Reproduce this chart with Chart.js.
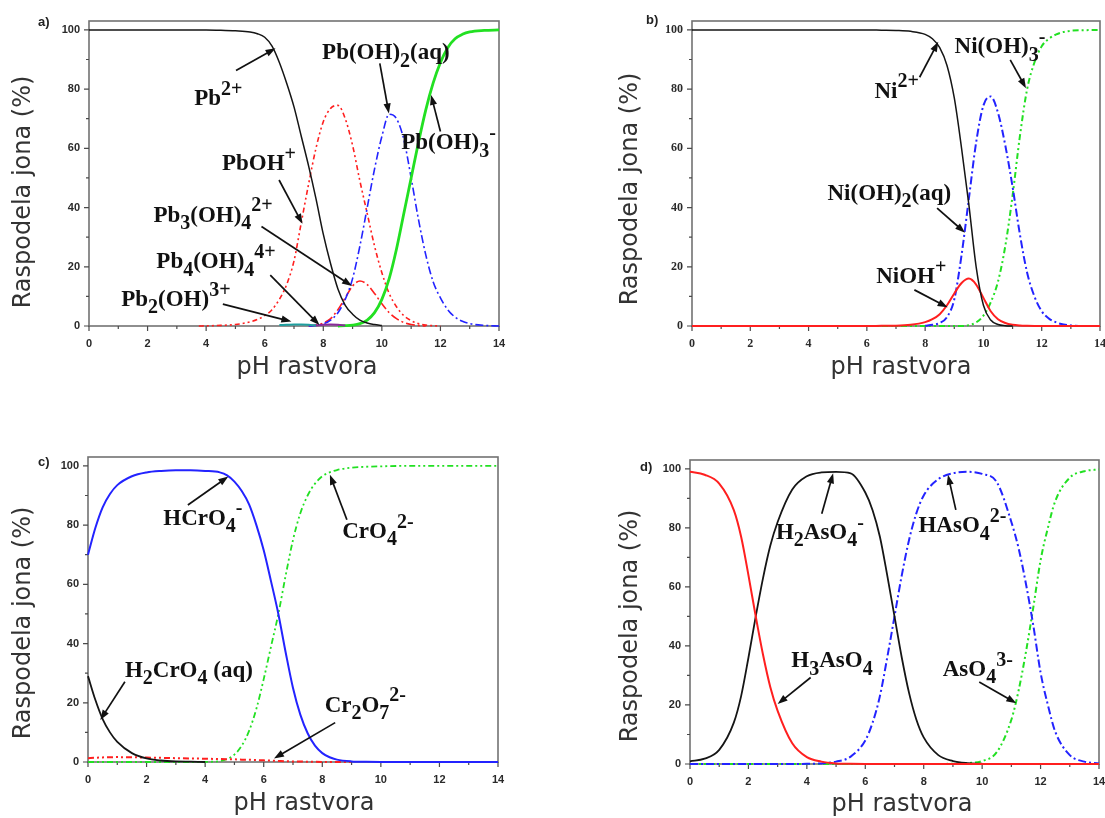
<!DOCTYPE html>
<html lang="sr">
<head>
<meta charset="utf-8">
<title>Raspodela jona</title>
<script src="https://cdn.jsdelivr.net/npm/chart.js@4.4.1/dist/chart.umd.min.js"></script>
<style>
html,body{margin:0;padding:0;background:#fff;}
body{width:1105px;height:818px;position:relative;overflow:hidden;}
canvas{position:absolute;}
</style>
</head>
<body>
<canvas id="cA" width="550" height="400" style="left:0;top:0;width:550px;height:400px"></canvas>
<canvas id="cB" width="555" height="400" style="left:550px;top:0;width:555px;height:400px"></canvas>
<canvas id="cC" width="550" height="408" style="left:0;top:410px;width:550px;height:408px"></canvas>
<canvas id="cD" width="555" height="408" style="left:550px;top:410px;width:555px;height:408px"></canvas>
<script>
// ---------- tick labels ----------
const xMajor = [0, 2, 4, 6, 8, 10, 12, 14];
const xMinor = [1, 3, 5, 7, 9, 11, 13];
const yMajor = [0, 20, 40, 60, 80, 100];
const yMinor = [10, 30, 50, 70, 90];
const xTitle = 'pH rastvora';
const yTitle = 'Raspodela jona (%)';

// ---------- panel a) Pb ----------
const pHa = [0,1,2,3,3.75,4,4.5,5,5.5,5.75,6,6.25,6.5,6.75,7,7.25,7.5,7.75,8,8.25,8.5,8.75,9,9.25,9.5,9.75,10,10.25,10.5,10.75,11,11.25,11.5,11.75,12,12.25,12.5,12.75,13,13.5,14];
const a_Pb2 = [100,100,100,100,100,100,99.9,99.7,99.3,98.7,97.5,94.5,89,82,74,64,54,43,31,21,12.5,7,4,2,1,0.5,0.2,null,null,null,null,null,null,null,null,null,null,null,null,null,null];
const a_PbOH = [null,null,null,null,0,0.05,0.2,0.5,1.4,2.2,3.5,5.5,9,14,22,35,48,60,69,73.5,74.5,70,61,49,38,27,18,11,6.5,3.5,1.8,0.8,0.3,0.1,0,null,null,null,null,null,null];
const a_Pb3OH4 = [null,null,null,null,null,null,null,null,null,null,null,null,null,null,null,null,0,0.3,1,2.5,5.5,9.5,13.5,15.2,14,11,7.5,4.5,2.5,1.2,0.5,0.15,0,null,null,null,null,null,null,null,null];
const a_PbOH2 = [null,null,null,null,null,null,null,null,null,null,null,null,null,null,null,null,0,0.2,0.7,2,4.5,9,16,27,40,53,64,71.5,70,63,50,36,24,15,9.5,5.5,3,1.6,0.8,0.2,0];
const a_PbOH3 = [null,null,null,null,null,null,null,null,null,null,null,null,null,null,null,null,null,null,null,null,0,0.1,0.3,0.8,2,4.5,9,16,26,38,50,62,73,82,89,94,97,98.5,99.3,99.8,100];
const a_Pb2OH = [null,null,null,null,null,null,null,null,null,null,null,null,0.3,0.4,0.5,0.5,0.4,0.2,null,null,null,null,null,null,null,null,null,null,null,null,null,null,null,null,null,null,null,null,null,null,null];
const a_Pb4OH4 = [null,null,null,null,null,null,null,null,null,null,null,null,null,null,null,null,null,0.2,0.4,0.5,0.4,0.2,null,null,null,null,null,null,null,null,null,null,null,null,null,null,null,null,null,null,null];

// ---------- panel b) Ni ----------
const pHb = [0,1,2,3,4,5,6,6.5,7,7.5,8,8.25,8.5,8.75,9,9.25,9.5,9.75,10,10.25,10.5,10.75,11,11.25,11.5,11.75,12,12.25,12.5,12.75,13,13.5,14];
const b_Ni2 = [100,100,100,100,100,100,100,99.9,99.8,99.5,98.5,97,94,88,77,60,41,20,7,2,0.5,0.1,0,null,null,null,null,null,null,null,null,null,null];
const b_NiOH = [0,0,0,0,0,0,0,0.05,0.1,0.4,1.3,2.3,4,7,11,14.5,16,14,9.5,5,2.3,1,0.4,0.15,0.05,0,0,0,0,0,0,0,0];
const b_NiOH2 = [null,null,null,null,null,null,null,null,null,null,0.1,0.4,1,3,9,24,43,62,74.5,77.5,72,61,47,31,18,10,5,2.5,1.2,0.5,0.2,0,0];
const b_NiOH3 = [0,0,0,0,0,0,0,0,0,0,0,0,0,0,0,0,0.3,1.2,3.5,8,15,27,44,64,80,89,94.5,97,98.5,99.3,99.7,99.9,100];

// ---------- panel c) Cr ----------
const pHc = [0,0.25,0.5,0.75,1,1.5,2,2.5,3,3.5,4,4.5,4.75,5,5.25,5.5,5.75,6,6.25,6.5,6.75,7,7.25,7.5,7.75,8,8.25,8.5,9,9.5,10,11,12,13,14];
const c_HCrO4 = [70,79,86,90.5,93.5,96.5,97.8,98.3,98.5,98.5,98.3,97.8,96.8,94.7,91.5,87,80,71.5,61,50,37,25,16,9.7,5.5,3,1.6,0.8,0.2,0.05,0,0,0,0,0];
const c_H2CrO4 = [29,21,14.5,10,6.8,3,1.2,0.5,0.2,0.1,0,null,null,null,null,null,null,null,null,null,null,null,null,null,null,null,null,null,null,null,null,null,null,null,null];
const c_Cr2O7 = [1.3,1.45,1.55,1.6,1.65,1.6,1.5,1.4,1.3,1.2,1.1,1.0,0.95,0.9,0.8,0.75,0.65,0.55,0.45,0.35,0.25,0.2,0.15,0.1,0.05,0.02,0,0,0,null,null,null,null,null,null];
const c_CrO4 = [0,0,0,0,0,0,0,0,0,0,0.05,0.3,1,2.5,5.5,10.5,18,28,39,50,63,75,84,90,94,96.5,97.8,98.6,99.4,99.7,99.85,100,100,100,100];

// ---------- panel d) As ----------
const pHd = [0,0.5,1,1.5,1.75,2,2.25,2.5,2.75,3,3.5,4,4.5,5,5.5,6,6.25,6.5,6.75,7,7.25,7.5,7.75,8,8.5,9,9.5,10,10.5,11,11.25,11.5,11.75,12,12.25,12.5,13,13.5,14];
const d_H3AsO4 = [99,98,95,86,77,64,50,37,26,18,7,2.3,0.8,0.2,0.05,0,0,0,0,0,0,0,0,0,0,0,0,0,0,0,0,0,0,0,0,0,0,0,0];
const d_H2AsO4 = [0.9,1.8,4.8,14,23,36,50,63,74,82,93,97.5,98.8,99,98.5,92,86,77,64,50,36,24,15,9,3,1,0.3,0.1,null,null,null,null,null,null,null,null,null,null,null];
const d_HAsO4 = [0,0,0,0,0,0,0,0,0,0,0,0.05,0.2,0.8,2.5,8,14,23,36,50,64,76,85,91,96.5,98.5,99,98.3,95.5,82,73,61,47,31,20,11,3,0.8,0.2];
const d_AsO4 = [0,0,0,0,0,0,0,0,0,0,0,0,0,0,0,0,0,0,0,0,0,0,0,0,0,0.1,0.3,1,4,15,25,38,53,69,80,89,97,99.2,99.8];

// ---------- styles ----------
const RED = '#ff1f1f', BLUE = '#2323ff', GREEN = '#22e022', BLACK = '#151515', TEAL = '#1f9f9f', PURPLE = '#8a2a9a';
const DD = [8, 3, 2, 3];          // dash-dot
const DDD = [6, 3, 2, 3, 2, 3];   // dash-dot-dot

function pts(xs, ys) { return xs.map((x, i) => ({ x: x, y: ys[i] })); }

function richText(ctx, str, x, y, size) {
  const segs = []; let buf = ''; let i = 0;
  while (i < str.length) {
    const c = str[i];
    if ((c === '_' || c === '^') && str[i + 1] === '{') {
      if (buf) segs.push({ m: 'n', t: buf }); buf = '';
      const end = str.indexOf('}', i);
      segs.push({ m: c === '_' ? 'sub' : 'sup', t: str.slice(i + 2, end) });
      i = end + 1; continue;
    }
    buf += c; i++;
  }
  if (buf) segs.push({ m: 'n', t: buf });
  let cx = x;
  ctx.textAlign = 'left'; ctx.textBaseline = 'alphabetic';
  for (const s of segs) {
    const fs = s.m === 'n' ? size : Math.round(size * 0.87);
    ctx.font = 'bold ' + fs + 'px "Liberation Serif", "Times New Roman", serif';
    const dy = s.m === 'sub' ? size * 0.32 : (s.m === 'sup' ? -size * 0.45 : 0);
    ctx.fillText(s.t, cx, y + dy);
    cx += ctx.measureText(s.t).width;
  }
}

function arrow(ctx, x1, y1, x2, y2) {
  const a = Math.atan2(y2 - y1, x2 - x1), L = 10, W = 3.6;
  ctx.beginPath(); ctx.moveTo(x1, y1); ctx.lineTo(x2 - 6 * Math.cos(a), y2 - 6 * Math.sin(a)); ctx.stroke();
  ctx.beginPath(); ctx.moveTo(x2, y2);
  ctx.lineTo(x2 - L * Math.cos(a) + W * Math.sin(a), y2 - L * Math.sin(a) - W * Math.cos(a));
  ctx.lineTo(x2 - L * Math.cos(a) - W * Math.sin(a), y2 - L * Math.sin(a) + W * Math.cos(a));
  ctx.closePath(); ctx.fill();
}

function makeDeco(P) {
  return {
    id: 'deco',
    beforeDatasetsDraw(chart) {
      const ctx = chart.ctx, A = chart.chartArea, xs = chart.scales.x, ys = chart.scales.y;
      ctx.save();
      ctx.strokeStyle = '#727272'; ctx.lineWidth = 1.6;
      ctx.strokeRect(A.left, A.top, A.right - A.left, A.bottom - A.top);
      ctx.strokeStyle = '#4a4a4a'; ctx.lineWidth = 1.2; ctx.beginPath();
      xMajor.forEach(v => { const p = xs.getPixelForValue(v); ctx.moveTo(p, A.bottom); ctx.lineTo(p, A.bottom + 5); });
      xMinor.forEach(v => { const p = xs.getPixelForValue(v); ctx.moveTo(p, A.bottom); ctx.lineTo(p, A.bottom + 3); });
      yMajor.forEach(v => { const p = ys.getPixelForValue(v); ctx.moveTo(A.left, p); ctx.lineTo(A.left - 5, p); });
      yMinor.forEach(v => { const p = ys.getPixelForValue(v); ctx.moveTo(A.left, p); ctx.lineTo(A.left - 3, p); });
      ctx.stroke();
      ctx.restore();
    },
    afterDraw(chart) {
      const ctx = chart.ctx, xs = chart.scales.x, ys = chart.scales.y;
      ctx.save();
      // axis titles
      ctx.fillStyle = '#333';
      ctx.font = '24px "DejaVu Sans", sans-serif';
      ctx.textAlign = 'center'; ctx.textBaseline = 'middle';
      ctx.fillText(xTitle, P.xt[0], P.xt[1]);
      ctx.save(); ctx.translate(P.yt[0], P.yt[1]); ctx.rotate(-Math.PI / 2);
      ctx.fillText(yTitle, 0, 0); ctx.restore();
      // panel tag
      ctx.fillStyle = '#222';
      ctx.font = 'bold 13px "Liberation Sans", Arial, sans-serif';
      ctx.textAlign = 'left'; ctx.textBaseline = 'middle';
      ctx.fillText(P.tag, P.tagPos[0], P.tagPos[1]);
      // annotations
      ctx.fillStyle = '#111'; ctx.strokeStyle = '#111'; ctx.lineWidth = 1.7;
      for (const an of P.ann) {
        richText(ctx, an.t, xs.getPixelForValue(an.x), ys.getPixelForValue(an.y), 23);
        arrow(ctx, xs.getPixelForValue(an.ax[0]), ys.getPixelForValue(an.ax[1]),
                   xs.getPixelForValue(an.ax[2]), ys.getPixelForValue(an.ax[3]));
      }
      ctx.restore();
    }
  };
}

function makeChart(id, P) {
  const W = P.w, H = P.h, A = P.area;
  const tickFont = { family: P.serifTicks ? '"Liberation Serif", serif' : '"Liberation Sans", Arial, sans-serif', size: P.serifTicks ? 12 : 11, weight: 'bold' };
  return new Chart(document.getElementById(id), {
    type: 'line',
    data: {
      datasets: P.datasets.map(d => Object.assign({
        pointRadius: 0, pointHoverRadius: 0, fill: false, cubicInterpolationMode: 'monotone',
        spanGaps: false, clip: 8, borderDash: [], borderCapStyle: 'butt'
      }, d))
    },
    options: {
      responsive: false, animation: false, devicePixelRatio: 1, events: [],
      layout: { padding: { left: 0, top: A.t, right: W - A.r, bottom: 0 } },
      plugins: { legend: { display: false }, tooltip: { enabled: false } },
      scales: {
        x: {
          type: 'linear', min: 0, max: 14,
          grid: { display: false, drawTicks: false }, border: { display: false },
          ticks: { padding: 11, color: '#2a2a2a', font: tickFont, maxRotation: 0, autoSkip: false },
          afterBuildTicks: s => { s.ticks = xMajor.map(v => ({ value: v })); },
          afterFit: s => { s.height = H - A.b; s.paddingLeft = 0; s.paddingRight = 0; }
        },
        y: {
          type: 'linear', min: 0, max: 103,
          grid: { display: false, drawTicks: false }, border: { display: false },
          ticks: { padding: 9, color: '#2a2a2a', font: tickFont, autoSkip: false },
          afterBuildTicks: s => { s.ticks = yMajor.map(v => ({ value: v })); },
          afterFit: s => { s.width = A.l; s.paddingTop = 0; s.paddingBottom = 0; }
        }
      }
    },
    plugins: [makeDeco(P)]
  });
}

// ---------- panels ----------
makeChart('cA', {
  w: 550, h: 400, area: { l: 89, r: 499, t: 21, b: 326 },
  tag: 'a)', tagPos: [38, 22], yt: [24, 192], xt: [307, 368],
  datasets: [
    { data: pts(pHa, a_Pb2), borderColor: BLACK, borderWidth: 1.5 },
    { data: pts(pHa, a_Pb2OH), borderColor: TEAL, borderWidth: 2 },
    { data: pts(pHa, a_Pb4OH4), borderColor: PURPLE, borderWidth: 2 },
    { data: pts(pHa, a_PbOH3), borderColor: GREEN, borderWidth: 2.8 },
    { data: pts(pHa, a_PbOH2), borderColor: BLUE, borderWidth: 1.6, borderDash: DD },
    { data: pts(pHa, a_Pb3OH4), borderColor: RED, borderWidth: 1.6, borderDash: [9, 3, 2, 3] },
    { data: pts(pHa, a_PbOH), borderColor: RED, borderWidth: 1.6, borderDash: [5, 3, 2, 3, 2, 3] }
  ],
  ann: [
    { t: 'Pb^{2+}', x: 3.59, y: 74.5, ax: [5.02, 86.3, 6.37, 93.8] },
    { t: 'Pb(OH)_{2}(aq)', x: 7.96, y: 90, ax: [9.93, 88.7, 10.24, 71.8] },
    { t: 'Pb(OH)_{3}^{-}', x: 10.66, y: 59.7, ax: [12.0, 65.7, 11.68, 78] },
    { t: 'PbOH^{+}', x: 4.54, y: 52.7, ax: [6.49, 49.3, 7.29, 34.5] },
    { t: 'Pb_{3}(OH)_{4}^{2+}', x: 2.2, y: 35.2, ax: [5.89, 33.6, 8.98, 13.5] },
    { t: 'Pb_{4}(OH)_{4}^{4+}', x: 2.3, y: 19.5, ax: [6.19, 17.2, 7.87, 0.3] },
    { t: 'Pb_{2}(OH)^{3+}', x: 1.1, y: 6.8, ax: [4.57, 7.4, 6.91, 1.5] }
  ]
});

makeChart('cB', {
  w: 555, h: 400, area: { l: 142, r: 550, t: 21, b: 326 }, serifTicks: true,
  tag: 'b)', tagPos: [96, 20], yt: [81, 189], xt: [351, 368],
  datasets: [
    { data: pts(pHb, b_Ni2), borderColor: BLACK, borderWidth: 1.5 },
    { data: pts(pHb, b_NiOH), borderColor: RED, borderWidth: 2 },
    { data: pts(pHb, b_NiOH2), borderColor: BLUE, borderWidth: 2, borderDash: DD },
    { data: pts(pHb, b_NiOH3), borderColor: GREEN, borderWidth: 2, borderDash: DDD }
  ],
  ann: [
    { t: 'Ni^{2+}', x: 6.26, y: 77.1, ax: [7.81, 84.0, 8.45, 96.0] },
    { t: 'Ni(OH)_{3}^{-}', x: 9.01, y: 92.1, ax: [10.92, 89.9, 11.46, 80.3] },
    { t: 'Ni(OH)_{2}(aq)', x: 4.65, y: 42.6, ax: [8.41, 39.8, 9.37, 31.5] },
    { t: 'NiOH^{+}', x: 6.32, y: 14.4, ax: [7.63, 12.2, 8.77, 6.3] }
  ]
});

makeChart('cC', {
  w: 550, h: 408, area: { l: 88, r: 498, t: 47, b: 352 },
  tag: 'c)', tagPos: [38, 52], yt: [24, 213], xt: [304, 394],
  datasets: [
    { data: pts(pHc, c_HCrO4), borderColor: BLUE, borderWidth: 2 },
    { data: pts(pHc, c_H2CrO4), borderColor: BLACK, borderWidth: 1.8 },
    { data: pts(pHc, c_Cr2O7), borderColor: RED, borderWidth: 2, borderDash: DDD },
    { data: pts(pHc, c_CrO4), borderColor: GREEN, borderWidth: 1.8, borderDash: DDD }
  ],
  ann: [
    { t: 'HCrO_{4}^{-}', x: 2.57, y: 80.1, ax: [3.41, 86.8, 4.79, 96.4] },
    { t: 'CrO_{4}^{2-}', x: 8.68, y: 75.6, ax: [8.84, 81.8, 8.26, 97] },
    { t: 'H_{2}CrO_{4} (aq)', x: 1.26, y: 28.8, ax: [1.26, 27.1, 0.42, 14.2] },
    { t: 'Cr_{2}O_{7}^{2-}', x: 8.08, y: 17, ax: [8.44, 13.3, 6.35, 1.2] }
  ]
});

makeChart('cD', {
  w: 555, h: 408, area: { l: 140, r: 549, t: 50, b: 354 },
  tag: 'd)', tagPos: [90, 57], yt: [81, 216], xt: [352, 395],
  datasets: [
    { data: pts(pHd, d_H3AsO4), borderColor: RED, borderWidth: 2 },
    { data: pts(pHd, d_H2AsO4), borderColor: BLACK, borderWidth: 1.8 },
    { data: pts(pHd, d_HAsO4), borderColor: BLUE, borderWidth: 2, borderDash: DD },
    { data: pts(pHd, d_AsO4), borderColor: GREEN, borderWidth: 2, borderDash: DDD }
  ],
  ann: [
    { t: 'H_{2}AsO_{4}^{-}', x: 2.94, y: 76.2, ax: [4.51, 84.8, 4.9, 98.5] },
    { t: 'HAsO_{4}^{2-}', x: 7.82, y: 78.5, ax: [9.1, 86.1, 8.83, 98] },
    { t: 'H_{3}AsO_{4}', x: 3.47, y: 32.7, ax: [4.13, 29.3, 3.0, 20.3] },
    { t: 'AsO_{4}^{3-}', x: 8.65, y: 29.8, ax: [9.9, 27.8, 11.17, 20.6] }
  ]
});
</script>
</body>
</html>
